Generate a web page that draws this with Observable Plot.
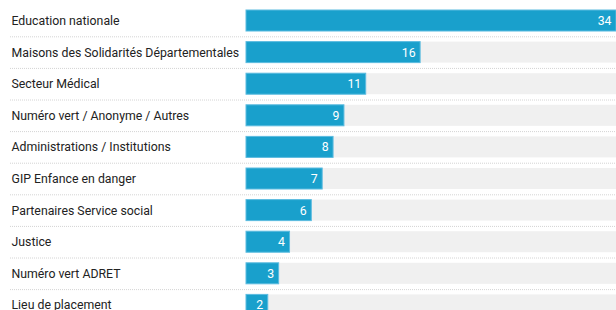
<!DOCTYPE html>
<html>
<head>
<meta charset="utf-8">
<script src="https://cdn.jsdelivr.net/npm/d3@7"></script>
<script src="https://cdn.jsdelivr.net/npm/@observablehq/plot@0.6"></script>
<style>
  html, body { margin: 0; padding: 0; background: #fff; overflow: hidden; }
  #chart svg { font-family: Roboto, "Noto Sans", sans-serif; }
</style>
</head>
<body>
<div id="chart"></div>
<script>
const categories = [
  "Education nationale",
  "Maisons des Solidarités Départementales",
  "Secteur Médical",
  "Numéro vert / Anonyme / Autres",
  "Administrations / Institutions",
  "GIP Enfance en danger",
  "Partenaires Service social",
  "Justice",
  "Numéro vert ADRET",
  "Lieu de placement"
];
const values = [34, 16, 11, 9, 8, 7, 6, 4, 3, 2];
const maxValue = 34;

const data = categories.map((c, i) => ({category: c, value: values[i]}));
const step = 31.6;
const pInner = 0.335;
const pOuter = pInner / 2;
const rangeStart = 10 - pOuter * step;

const chart = Plot.plot({
  width: 616,
  height: 310,
  marginLeft: 246,
  marginRight: 0,
  marginTop: 0,
  marginBottom: 0,
  style: {fontFamily: "Roboto, 'Noto Sans', sans-serif", fontSize: "12.3px", overflow: "hidden"},
  x: {domain: [0, maxValue], range: [246, 616], axis: null},
  y: {domain: categories, range: [rangeStart, rangeStart + categories.length * step], paddingInner: pInner, paddingOuter: pOuter, round: false, axis: null},
  marks: [
    Plot.ruleY(categories, {y: d => d, dy: step / 2, stroke: "#d4d4d4", strokeDasharray: "1,1", insetLeft: -236}),
    Plot.barX(categories, {y: d => d, x1: 0, x2: maxValue, fill: "#f0f0f0"}),
    Plot.barX(data, {y: "category", x1: 0, x2: "value", fill: "#19a0cc", stroke: "#5cbce0", strokeWidth: 1}),
    Plot.text(data, {y: "category", text: "category", frameAnchor: "left", dx: -235, textAnchor: "start", fill: "#222", fontSize: 12.3}),
    Plot.text(data, {y: "category", x: "value", text: d => String(d.value), textAnchor: "end", dx: -5, fill: "#fff", fontSize: 12.3})
  ]
});
document.getElementById("chart").appendChild(chart);
</script>
</body>
</html>
